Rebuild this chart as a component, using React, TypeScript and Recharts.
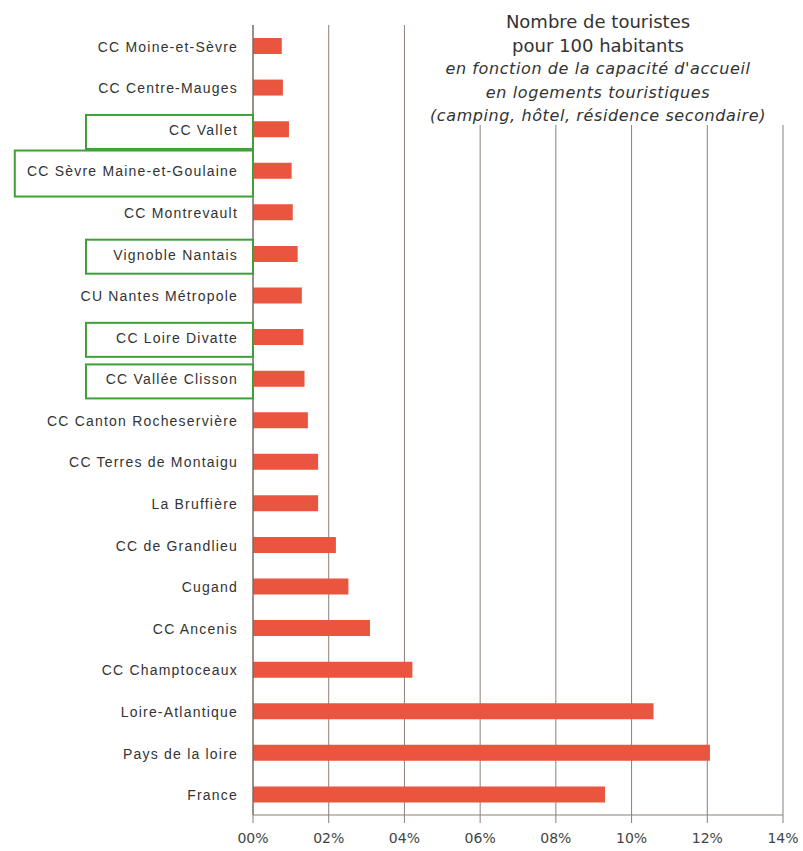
import { BarChart, Bar, XAxis, YAxis, CartesianGrid } from "recharts"

const categories = [
  "CC Moine-et-Sèvre",
  "CC Centre-Mauges",
  "CC Vallet",
  "CC Sèvre Maine-et-Goulaine",
  "CC Montrevault",
  "Vignoble Nantais",
  "CU Nantes Métropole",
  "CC Loire Divatte",
  "CC Vallée Clisson",
  "CC Canton Rocheservière",
  "CC Terres de Montaigu",
  "La Bruffière",
  "CC de Grandlieu",
  "Cugand",
  "CC Ancenis",
  "CC Champtoceaux",
  "Loire-Atlantique",
  "Pays de la loire",
  "France",
]

// touristes pour 100 habitants (%)
const values = [
  0.76, 0.79, 0.95, 1.02, 1.05, 1.18, 1.29, 1.33, 1.36, 1.45, 1.72, 1.72, 2.19, 2.52, 3.09, 4.21, 10.58, 12.07,
  9.3,
]

const highlighted = ["CC Vallet", "CC Sèvre Maine-et-Goulaine", "Vignoble Nantais", "CC Loire Divatte", "CC Vallée Clisson"]

const xTicks = [0, 2, 4, 6, 8, 10, 12, 14]

const titleLines = ["Nombre de touristes", "pour 100 habitants"]
const subtitleLines = [
  "en fonction de la capacité d'accueil",
  "en logements touristiques",
  "(camping, hôtel, résidence secondaire)",
]

const data = categories.map((name, i) => ({ name, value: values[i] }))

const GRID = "#8b8078"

function CategoryTick(props: any) {
  const { x, y, payload } = props
  const label: string = payload.value
  const boxed = highlighted.includes(label)
  const textW = label.length * 8.2
  const left = Math.min(86, x - 15 - textW - 10)
  const h = textW > 180 ? 46 : 34
  return (
    <g>
      {boxed && (
        <rect
          x={left}
          y={y - h / 2 + 3}
          width={x - left}
          height={h}
          fill="none"
          stroke="#3f9f3a"
          strokeWidth={2}
        />
      )}
      <text
        x={x - 15}
        y={y + 1}
        dy="0.35em"
        textAnchor="end"
        fill="#333"
        fontSize={14}
        letterSpacing="1.2px"
        fontFamily="'Liberation Sans', Arial, sans-serif"
      >
        {label}
      </text>
    </g>
  )
}

export default function App() {
  return (
    <div style={{ position: "absolute", left: 0, top: 0, width: 803, height: 851, background: "#fff" }}>
      <BarChart
        width={803}
        height={851}
        data={data}
        layout="vertical"
        margin={{ top: 25, right: 20, bottom: 6, left: 0 }}
      >
        <CartesianGrid horizontal={false} stroke={GRID} strokeWidth={1} />
        <XAxis
          type="number"
          domain={[0, 14]}
          ticks={xTicks}
          height={30}
          tickSize={8}
          tickMargin={10}
          stroke={GRID}
          tickFormatter={(v: number) => String(v).padStart(2, "0") + "%"}
          tick={{ fill: "#444", fontSize: 14, fontFamily: "'DejaVu Sans', Verdana, sans-serif" }}
        />
        <YAxis
          type="category"
          dataKey="name"
          width={253}
          tickLine={false}
          tickSize={0}
          tickMargin={0}
          stroke="#6b625c"
          interval={0}
          tick={<CategoryTick />}
        />
        <Bar dataKey="value" fill="#e9553f" barSize={16} isAnimationActive={false} />
      </BarChart>
      <div
        style={{
          position: "absolute",
          left: 408,
          top: 0,
          width: 380,
          height: 125,
          background: "#fff",
          textAlign: "center",
          color: "#333",
          fontFamily: "'DejaVu Sans', Verdana, sans-serif",
          paddingTop: 10,
          boxSizing: "border-box",
        }}
      >
        {titleLines.map((t) => (
          <div key={t} style={{ fontSize: 18, lineHeight: "23.5px" }}>
            {t}
          </div>
        ))}
        {subtitleLines.map((t) => (
          <div key={t} style={{ fontSize: 16, lineHeight: "23.5px", fontStyle: "italic", letterSpacing: "0.6px" }}>
            {t}
          </div>
        ))}
      </div>
    </div>
  )
}
